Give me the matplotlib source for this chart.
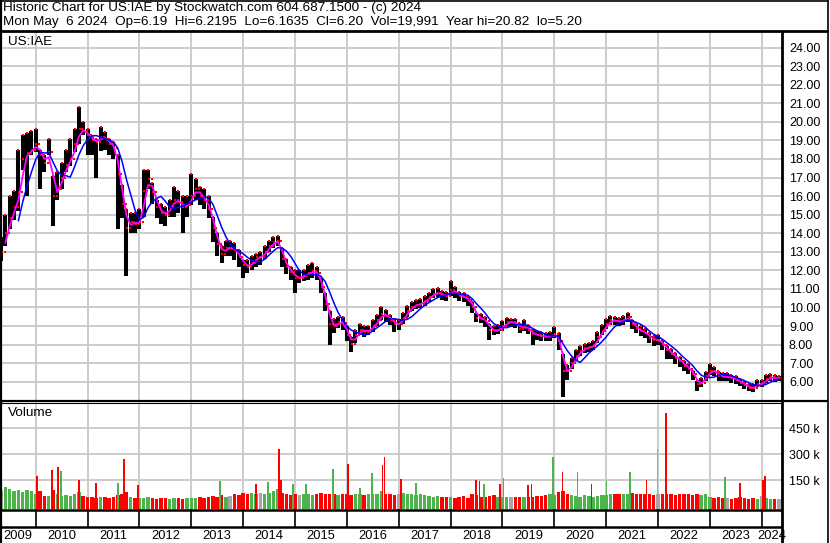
import matplotlib
matplotlib.use('Agg')
import matplotlib.pyplot as plt
import numpy as np
import pandas as pd

plt.rcParams['font.family'] = ['Liberation Sans', 'DejaVu Sans']

# monthly values, May 2009 .. May 2024
closes = [13.0, 14.0, 14.8, 15.4, 16.2, 18.0, 18.3, 18.5, 18.8, 18.2, 17.8, 18.4,
          16.0, 16.4, 17.0, 17.7, 18.0, 18.8, 19.6, 19.5, 19.3, 19.0, 18.9, 19.2,
          19.1, 18.8, 18.6, 17.2, 15.6, 14.3, 14.6, 14.5, 14.6, 16.3, 16.9, 16.2,
          15.4, 15.1, 15.0, 15.4, 15.8, 15.7, 15.4, 15.5, 16.0, 16.4, 16.0, 15.8,
          15.3, 14.3, 13.4, 12.9, 13.2, 13.2, 13.1, 12.7, 12.3, 12.2, 12.4, 12.7,
          12.7, 13.0, 13.3, 13.5, 13.6, 12.6, 12.2, 11.9, 11.6, 11.6, 11.7, 11.85,
          11.95, 11.85, 11.1, 10.2, 9.1, 9.0, 9.2, 9.15, 8.5, 8.05, 8.5, 8.8,
          8.7, 8.75, 9.0, 9.3, 9.65, 9.55, 9.35, 9.1, 9.1, 9.45, 9.8, 10.05,
          10.15, 10.2, 10.35, 10.55, 10.75, 10.8, 10.65, 10.6, 10.95, 10.8, 10.6, 10.55,
          10.4, 10.0, 9.45, 9.4, 9.25, 8.8, 8.75, 8.8, 9.0, 9.2, 9.2, 9.15,
          8.85, 9.0, 8.8, 8.55, 8.5, 8.45, 8.42, 8.45, 8.58, 8.2, 6.6, 6.55,
          7.0, 7.4, 7.65, 7.8, 7.85, 7.95, 8.4, 8.75, 9.1, 9.31, 9.28, 9.23,
          9.31, 9.47, 9.1, 8.85, 8.72, 8.6, 8.38, 8.24, 8.24, 8.0, 7.7, 7.5,
          7.3, 7.1, 6.87, 6.7, 6.4, 5.85, 5.95, 6.3, 6.6, 6.55, 6.3, 6.26,
          6.26, 6.18, 6.1, 5.95, 5.8, 5.68, 5.65, 5.9, 5.9, 6.15, 6.25, 6.2, 6.2]
highs = [13.8, 15.0, 16.0, 16.3, 18.5, 19.3, 19.4, 19.5, 19.6, 18.5, 18.2, 19.1,
         17.1, 17.3, 17.8, 18.5, 19.1, 19.6, 20.8, 20.0, 19.6, 19.2, 19.1, 19.7,
         19.45, 19.1, 18.9, 18.2, 16.6, 15.3, 15.1, 15.1, 15.3, 17.4, 17.4, 16.7,
         15.8, 15.6, 15.4, 15.8, 16.5, 16.3, 16.0, 16.0, 17.2, 16.9, 16.5, 16.4,
         16.0, 14.9, 14.0, 13.3, 13.6, 13.6, 13.45, 13.1, 12.55, 12.55, 12.75, 12.9,
         13.0, 13.3, 13.6, 13.8, 13.85, 13.2, 12.6, 12.2, 12.0, 12.0, 12.0, 12.3,
         12.4, 12.2, 11.6, 10.8, 9.8, 9.4, 9.5, 9.5, 9.0, 8.4, 8.8, 9.1,
         9.0, 9.0, 9.3, 9.6, 10.05, 9.85, 9.6, 9.4, 9.3, 9.7, 10.1, 10.3,
         10.4, 10.45, 10.6, 10.8, 11.0, 11.05, 10.9, 10.85, 11.4, 11.1, 10.85, 10.8,
         10.6, 10.3, 9.7, 9.65, 9.5, 9.1, 9.0, 9.05, 9.25, 9.45, 9.4, 9.4,
         9.1, 9.3, 9.05, 8.8, 8.75, 8.7, 8.65, 8.7, 8.95, 8.6, 7.5, 6.9,
         7.3, 7.7, 7.95, 8.05, 8.1, 8.2, 8.7, 9.05, 9.4, 9.55, 9.5, 9.45,
         9.55, 9.7, 9.35, 9.1, 9.0, 8.85, 8.6, 8.45, 8.5, 8.2, 7.9, 7.75,
         7.55, 7.35, 7.1, 6.95, 6.6, 6.05, 6.2, 6.5, 6.98, 6.8, 6.5, 6.45,
         6.45, 6.35, 6.3, 6.15, 6.0, 5.85, 5.85, 6.1, 6.1, 6.35, 6.4, 6.35, 6.3]
lows = [12.5, 13.3, 14.2, 14.7, 15.2, 17.4, 16.0, 18.2, 18.35, 16.4, 17.3, 18.2,
        14.4, 15.8, 16.4, 17.3, 17.6, 18.4, 18.8, 19.3, 18.2, 18.2, 17.0, 18.45,
        18.5, 18.2, 18.0, 14.2, 14.8, 11.7, 14.0, 14.0, 14.2, 14.9, 16.4, 15.6,
        14.8, 14.5, 14.4, 14.9, 14.9, 15.1, 14.0, 14.9, 15.5, 15.8, 15.5, 15.3,
        14.8, 13.5, 12.75, 12.4, 12.75, 12.75, 12.55, 12.2, 11.6, 11.85, 12.0, 12.2,
        12.3, 12.6, 13.0, 13.2, 13.3, 12.2, 11.8, 11.5, 10.8, 11.3, 11.4, 11.5,
        11.6, 11.5, 10.8, 9.8, 7.98, 8.6, 8.9, 8.8, 8.2, 7.6, 8.1, 8.5,
        8.4, 8.5, 8.7, 9.0, 9.3, 9.2, 9.05, 8.7, 8.8, 9.1, 9.5, 9.8,
        9.9, 9.95, 10.1, 10.3, 10.5, 10.55, 10.4, 10.35, 10.6, 10.5, 10.35, 10.3,
        10.1, 9.7, 9.2, 9.15, 8.95, 8.25, 8.5, 8.55, 8.75, 8.95, 8.95, 8.9,
        8.6, 8.75, 8.55, 7.98, 8.25, 8.2, 8.2, 8.2, 8.35, 7.7, 5.2, 6.1,
        6.7, 7.1, 7.4, 7.55, 7.6, 7.7, 8.1, 8.5, 8.85, 9.05, 9.05, 9.0,
        9.05, 9.2, 8.85, 8.6, 8.45, 8.35, 8.1, 7.95, 8.0, 7.7, 7.2, 7.2,
        6.95, 6.8, 6.6, 6.4, 6.1, 5.5, 5.7, 6.05, 6.35, 6.3, 6.05, 6.05,
        6.05, 5.95, 5.9, 5.75, 5.6, 5.5, 5.46, 5.7, 5.7, 5.95, 6.05, 6.0, 6.05]
# typical monthly volume level (thousands)
volume_k = [95, 110, 100, 85, 95, 80, 95, 90,
            70, 85, 60, 60, 95, 70, 60, 65, 60, 70, 80, 60,
            50, 55, 45, 50, 55, 45, 50, 65, 70, 80, 50, 48,
            48, 45, 50, 45, 42, 45, 45, 42, 45, 45, 42, 45,
            45, 45, 50, 48, 52, 58, 52, 62, 55, 60, 68, 65,
            75, 68, 78, 70, 75, 70, 75, 85, 100, 75, 70, 65,
            68, 62, 72, 68, 62, 68, 78, 72, 68, 68, 62, 72,
            68, 62, 72, 68, 62, 72, 68, 72, 85, 72, 68, 65,
            70, 75, 70, 72, 62, 68, 62, 58, 52, 58, 52, 55,
            52, 48, 52, 58, 48, 68, 62, 52, 52, 58, 62, 52,
            55, 50, 55, 50, 55, 50, 55, 50, 60, 60, 65, 70,
            65, 80, 85, 70, 65, 60, 55, 65, 60, 55, 60, 65,
            62, 68, 72, 68, 68, 72, 78, 72, 68, 72, 68, 62,
            68, 72, 68, 72, 62, 68, 72, 68, 62, 68, 62, 70,
            52, 48, 52, 48, 48, 42, 48, 52, 48, 42, 48, 42,
            60, 48, 42, 42, 38]
# single-day volume spikes (date as fractional year, thousands, colour)
spike_t = [2010.03, 2010.31, 2010.43, 2010.49, 2010.83, 2011.16, 2011.59, 2011.70,
           2011.97, 2013.55, 2014.25, 2014.48, 2014.69, 2014.73, 2014.96, 2015.21,
           2015.73, 2016.02, 2016.25, 2016.48, 2016.69, 2016.73, 2017.04, 2017.33,
           2018.49, 2018.56, 2018.64, 2018.95, 2019.02, 2019.49, 2019.56, 2019.97,
           2020.16, 2020.45, 2020.72, 2021.01, 2021.46, 2021.78, 2021.99, 2022.15,
           2023.29, 2023.58, 2024.02, 2024.06]
spike_k = [175, 210, 227, 200, 152, 135, 135, 273,
           123, 146, 128, 140, 331, 152, 128, 128,
           215, 244, 106, 194, 238, 285, 157, 135,
           152, 146, 128, 128, 163, 120, 125, 286,
           198, 198, 128, 146, 198, 152, 331, 539,
           169, 135, 152, 175]
spike_c = 'rrrgrrgrrgrgrrgggrggrrrgrrgrgrrgrgrggrxrgrrr'

price_ticks = list(range(6, 25))
vol_ticks = [150, 300, 450]
years = list(range(2009, 2025))
header1 = 'Historic Chart for US:IAE by Stockwatch.com 604.687.1500 - (c) 2024'
header2 = ('Mon May  6 2024  Op=6.19  Hi=6.2195  Lo=6.1635  Cl=6.20  '
           'Vol=19,991  Year hi=20.82  lo=5.20')

W, H = 830, 543
GREEN = '#4db34d'
GRID = '#c8c8c8'
cmap = {'r': '#ff0000', 'g': GREEN, 'x': '#a6a6a6'}


def px_rect(x0, y0, x1, y1):
    return [x0 / W, 1 - y1 / H, (x1 - x0) / W, (y1 - y0) / H]


t = 2009 + (4 + np.arange(len(closes))) / 12.0
XL = (2009.312, 2024.391)

fig = plt.figure(figsize=(W / 100, H / 100), dpi=100)

# price panel
ax = fig.add_axes(px_rect(0, 32, 782, 400))
ax.set_xlim(XL)
ax.set_ylim(5.014, 24.84)
ax.set_xticks(years[1:])
ax.set_yticks(price_ticks)
ax.set_yticklabels(['%.2f' % p for p in price_ticks])
ax.yaxis.tick_right()
ax.tick_params(axis='y', length=0, pad=5, labelsize=9)
ax.tick_params(axis='x', length=0, labelbottom=False)
ax.grid(True, color=GRID, lw=1.3)
ax.set_axisbelow(True)
for s in ax.spines.values():
    s.set_visible(False)

ax.vlines(t, lows, highs, color='black', lw=2.9, zorder=2)
ax.plot(t + 0.015, closes, ls='none', marker='s', ms=1.7, mew=0, color='red', zorder=3)
ax.plot(t - 0.015, [closes[0]] + closes[:-1], ls='none', marker='s', ms=1.7, mew=0,
        color='red', zorder=3)
ax.plot(t, highs, ls='none', marker='s', ms=1.5, mew=0, color='red', zorder=3)
cs = pd.Series(closes)
ax.plot(t, cs.rolling(2).mean(), color='#ff00ff', lw=1.3, zorder=4)
ax.plot(t, cs.rolling(5).mean(), color='#0000ff', lw=1.1, zorder=5)
ax.annotate('US:IAE', xy=(0, 1), xycoords='axes fraction', xytext=(8, -10),
            textcoords='offset pixels', fontsize=9.7, va='center')

# volume panel
av = fig.add_axes(px_rect(0, 402, 782, 509))
av.set_xlim(XL)
av.set_ylim(-17, 602)
av.set_xticks(years[1:])
av.set_yticks(vol_ticks)
av.set_yticklabels(['%d k' % v for v in vol_ticks])
av.yaxis.tick_right()
av.tick_params(axis='y', length=0, pad=5, labelsize=9)
av.tick_params(axis='x', length=0, labelbottom=False)
av.grid(True, color=GRID, lw=1.3)
av.set_axisbelow(True)
for s in av.spines.values():
    s.set_visible(False)
chg = np.sign(np.diff([closes[0]] + closes))
vcol = [cmap['g'] if c > 0 else (cmap['r'] if c < 0 else cmap['x']) for c in chg]
av.bar(t, np.array(volume_k) + 17, bottom=-17, width=1 / 12 * 0.8, color=vcol, lw=0)
av.bar(spike_t, np.array(spike_k) + 17, bottom=-17, width=0.03,
       color=[cmap[c] for c in spike_c], lw=0)
av.annotate('Volume', xy=(0, 1), xycoords='axes fraction', xytext=(8, -11),
            textcoords='offset pixels', fontsize=9.7, va='center')

# date strip
ad = fig.add_axes(px_rect(0, 509, 782, 527))
ad.set_xlim(XL)
ad.set_ylim(0, 1)
ad.axis('off')
ad.vlines(years[1:], 0, 1, color='black', lw=1.2)

ay = fig.add_axes(px_rect(0, 527, 782, 543))
ay.set_xlim(XL)
ay.set_ylim(0, 1)
ay.axis('off')
for y in years:
    c = (max(y, XL[0]) + min(y + 1, XL[1])) / 2
    ay.text(c, 0.45, str(y), ha='center', va='center', fontsize=9.3, clip_on=False)

# frame lines and header, in pixel coordinates
af = fig.add_axes([0, 0, 1, 1], zorder=10)
af.set_xlim(0, W)
af.set_ylim(H, 0)
af.axis('off')
af.patch.set_alpha(0)
lk = dict(color='black', solid_capstyle='butt')
af.plot([0, 828], [1, 1], lw=1.2, **lk)
af.plot([1, 1], [0, H], lw=1.6, **lk)
af.plot([828, 828], [0, H], lw=1.2, **lk)
af.plot([0, 828], [31, 31], lw=2.0, **lk)
af.plot([782, 782], [31, H], lw=2.0, **lk)
af.plot([0, 828], [400.5, 400.5], lw=1.6, **lk)
af.plot([0, 782], [403, 403], lw=0.8, **lk)
af.plot([0, 782], [509.5, 509.5], lw=1.8, **lk)
af.plot([0, 782], [526.5, 526.5], lw=1.8, **lk)
af.text(3, 8.5, header1, fontsize=9.7, va='center')
af.text(3, 22, header2, fontsize=9.7, va='center')

fig.savefig('out.png', dpi=100)
